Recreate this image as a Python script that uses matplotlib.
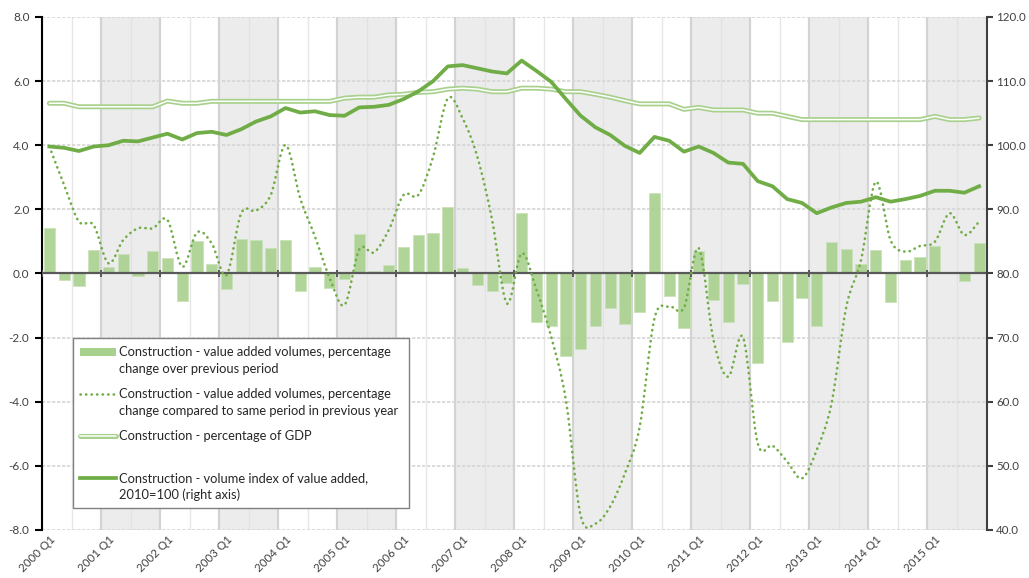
import matplotlib

matplotlib.use("Agg")
import matplotlib.pyplot as plt
import numpy as np
from matplotlib.lines import Line2D
from matplotlib.patches import PathPatch, Rectangle
from matplotlib.path import Path

plt.rcParams["font.family"] = ["Lato", "DejaVu Sans"]

W, H = 1029, 578

YEARS = list(range(2000, 2016))
QUARTERS = [f"{y} Q{q}" for y in YEARS for q in range(1, 5)]

# percentage change over previous period (bars, left axis)
qoq_change = [
    1.43, -0.19, -0.40, 0.72,
    0.20, 0.60, -0.08, 0.69,
    0.49, -0.87, 1.00, 0.29,
    -0.48, 1.08, 1.06, 0.78,
    1.04, -0.56, 0.19, -0.45,
    -0.17, 1.22, 0.09, 0.27,
    0.83, 1.20, 1.26, 2.07,
    0.16, -0.37, -0.54, -0.29,
    1.88, -1.52, -1.63, -2.56,
    -2.34, -1.63, -1.08, -1.58,
    -1.21, 2.51, -0.69, -1.69,
    0.70, -0.82, -1.52, -0.32,
    -2.78, -0.86, -2.15, -0.77,
    -1.65, 0.98, 0.76, 0.31,
    0.74, -0.88, 0.42, 0.52,
    0.86, 0.00, -0.23, 0.96,
]

# percentage change vs same period previous year (dotted, left axis)
yoy_change = [
    3.96, 2.76, 1.62, 1.51,
    0.32, 1.04, 1.41, 1.41,
    1.67, 0.21, 1.28, 0.94,
    -0.05, 1.88, 1.96, 2.45,
    4.01, 2.34, 1.15, -0.15,
    -0.98, 0.75, 0.66, 1.36,
    2.45, 2.45, 3.64, 5.46,
    4.84, 3.64, 1.67, -0.93,
    0.63, -0.50, -1.97, -3.95,
    -7.55, -7.80, -7.27, -6.23,
    -4.78, -1.40, -1.03, -1.07,
    0.79, -2.07, -3.22, -1.99,
    -5.30, -5.37, -5.87, -6.39,
    -5.50, -4.05, -1.04, 0.42,
    2.86, 1.04, 0.68, 0.86,
    0.99, 1.88, 1.20, 1.62,
]

# percentage of GDP (double line, left axis)
gdp_share = [
    5.31, 5.31, 5.20, 5.20,
    5.20, 5.20, 5.20, 5.20,
    5.38, 5.31, 5.31, 5.37,
    5.37, 5.37, 5.37, 5.37,
    5.37, 5.37, 5.37, 5.37,
    5.47, 5.50, 5.50, 5.57,
    5.59, 5.65, 5.67, 5.75,
    5.78, 5.75, 5.67, 5.67,
    5.78, 5.78, 5.75, 5.67,
    5.67, 5.59, 5.50, 5.39,
    5.29, 5.29, 5.29, 5.12,
    5.18, 5.10, 5.10, 5.10,
    5.00, 5.00, 4.90, 4.80,
    4.80, 4.80, 4.80, 4.80,
    4.80, 4.80, 4.80, 4.80,
    4.90, 4.80, 4.80, 4.85,
]

# volume index 2010=100 (thick line, right axis)
volume_index = [
    99.8, 99.6, 99.1, 99.8,
    100.0, 100.7, 100.6, 101.2,
    101.8, 100.9, 101.9, 102.1,
    101.6, 102.5, 103.7, 104.5,
    105.8, 105.1, 105.3, 104.7,
    104.6, 105.9, 106.0, 106.3,
    107.2, 108.4, 110.0, 112.3,
    112.5, 112.0, 111.5, 111.2,
    113.2, 111.6, 109.9, 107.2,
    104.6, 102.8, 101.6, 99.9,
    98.8, 101.3, 100.7, 99.0,
    99.8, 98.8, 97.3, 97.1,
    94.4, 93.6, 91.6, 91.0,
    89.4, 90.3, 91.0, 91.2,
    91.9, 91.2, 91.6, 92.1,
    92.9, 92.9, 92.6, 93.6,
]

LEGEND_LABELS = [
    ["Construction - value added volumes, percentage", "change over previous period"],
    ["Construction - value added volumes, percentage",
     "change compared to same period in previous year"],
    ["Construction - percentage of GDP"],
    ["Construction - volume index of value added,", "2010=100 (right axis)"],
]

BAR_GREEN = "#a9d18e"
LINE_GREEN = "#70ad47"
TEXT_GREY = "#404040"
DOTS = (0, (0.1, 2.0))


def smooth_path(xs, ys):
    # Catmull-Rom through the points, written as cubic Bezier segments
    pts = np.column_stack([xs, ys]).astype(float)
    padded = np.vstack([pts[0], pts, pts[-1]])
    verts = [pts[0]]
    codes = [Path.MOVETO]
    for i in range(len(pts) - 1):
        p0, p1, p2, p3 = padded[i], padded[i + 1], padded[i + 2], padded[i + 3]
        verts += [p1 + (p2 - p0) / 6.0, p2 - (p3 - p1) / 6.0, p2]
        codes += [Path.CURVE4] * 3
    return Path(verts, codes)


def px(x, y):
    return x / W, 1 - y / H


fig = plt.figure(figsize=(W / 100, H / 100), dpi=100)
ax = fig.add_axes([42 / W, 1 - 530 / H, (986.5 - 42) / W, (530 - 17) / H])
ax2 = ax.twinx()

n = len(QUARTERS)
x = np.arange(n)
ax.set_xlim(-0.5, n - 0.5)
ax.set_ylim(-8, 8)
ax2.set_ylim(40, 120)

# alternating year shading and gridlines
for k, year in enumerate(YEARS):
    if k % 2 == 1:
        ax.axvspan(4 * k - 0.5, 4 * k + 3.5, color="#ececec", lw=0, zorder=0)
for b in range(0, n, 2):
    if b % 4 == 0:
        ax.axvline(b - 0.5, color="#d3d3d3", lw=1.6, zorder=1)
    else:
        ax.axvline(b - 0.5, color="#dedede", lw=1.0, alpha=0.7, zorder=1)
for v in range(-8, 9, 2):
    if v != 0:
        ax.axhline(v, color="#d6d6d6", lw=1.2, ls=(0, (2, 1)), zorder=1)

ax.bar(x, qoq_change, width=0.76, color=BAR_GREEN, edgecolor="#c9e2b8",
       lw=0.6, alpha=0.9, zorder=3)

ax.axhline(0, color="#595959", lw=1.6, zorder=4)
ax.vlines(np.arange(0, n + 1, 4) - 0.5, -0.1, 0.1, color="#595959", lw=1.4, zorder=4)

ax.add_patch(PathPatch(smooth_path(x, yoy_change), fill=False, edgecolor=LINE_GREEN,
                       lw=1.9, ls=DOTS, capstyle="round", zorder=5))

ax.plot(x, gdp_share, color=BAR_GREEN, lw=3.6, solid_capstyle="round", zorder=5)
ax.plot(x, gdp_share, color="white", lw=1.1, solid_capstyle="round", zorder=5.1)

ax2.plot(x, volume_index, color=LINE_GREEN, lw=2.7, solid_joinstyle="round", zorder=6)

# spines and ticks
for side in ("top", "right", "bottom"):
    ax.spines[side].set_visible(False)
for side in ("top", "left", "bottom"):
    ax2.spines[side].set_visible(False)
ax.spines["left"].set_color("black")
ax.spines["left"].set_linewidth(1.5)
ax2.spines["right"].set_color(TEXT_GREY)
ax2.spines["right"].set_linewidth(1.5)

ax.set_yticks(range(-8, 9, 2))
ax.set_yticklabels([f"{v:.1f}" for v in range(-8, 9, 2)])
ax.tick_params(axis="y", direction="out", length=5, width=1.5, pad=4,
               labelsize=8.5, labelcolor=TEXT_GREY)
ax2.set_yticks(range(40, 121, 10))
ax2.set_yticklabels([f"{v:.1f}" for v in range(40, 121, 10)])
ax2.tick_params(axis="y", direction="out", length=4, width=1.5, pad=3,
                labelsize=8.3, labelcolor=TEXT_GREY, color=TEXT_GREY)

ax.set_xticks(x[::4])
ax.set_xticklabels(QUARTERS[::4], rotation=45, ha="right", va="top",
                   rotation_mode="anchor", fontsize=8.3, color=TEXT_GREY)
ax.tick_params(axis="x", length=0, pad=3)
ax2.tick_params(axis="x", length=0)

# legend box, drawn on the figure so it sits above every series
x0, y0 = px(72.7, 507.7)
x1, y1 = px(409.3, 338.3)
fig.add_artist(Rectangle((x0, y0), x1 - x0, y1 - y0, transform=fig.transFigure,
                         facecolor="white", edgecolor="#808080", lw=1.0, zorder=10))

entry_y = [352, 394, 436, 478]
hx0, hx1 = px(80, 0)[0], px(116, 0)[0]
handles = [
    dict(kind="bar"),
    dict(kind="line", color=LINE_GREEN, lw=1.9, ls=DOTS, cap="round"),
    dict(kind="double"),
    dict(kind="line", color=LINE_GREEN, lw=2.7, ls="-", cap="butt"),
]
for ey, handle, lines in zip(entry_y, handles, LEGEND_LABELS):
    hy = px(0, ey)[1]
    if handle["kind"] == "bar":
        bh = 8 / H
        fig.add_artist(Rectangle((hx0, hy - bh / 2), hx1 - hx0, bh, transform=fig.transFigure,
                                 facecolor=BAR_GREEN, edgecolor="none", zorder=11))
    elif handle["kind"] == "double":
        fig.add_artist(Line2D([hx0, hx1], [hy, hy], transform=fig.transFigure,
                              color=BAR_GREEN, lw=3.6, solid_capstyle="round", zorder=11))
        fig.add_artist(Line2D([hx0, hx1], [hy, hy], transform=fig.transFigure,
                              color="white", lw=1.1, solid_capstyle="round", zorder=11))
    else:
        fig.add_artist(Line2D([hx0, hx1], [hy, hy], transform=fig.transFigure,
                              color=handle["color"], lw=handle["lw"], ls=handle["ls"],
                              dash_capstyle=handle["cap"], zorder=11))
    for j, line in enumerate(lines):
        tx, ty = px(119, ey + 17 * j)
        fig.text(tx, ty, line, ha="left", va="center", fontsize=9.3,
                 color="#262626", zorder=12)

fig.savefig("out.png", dpi=100)
